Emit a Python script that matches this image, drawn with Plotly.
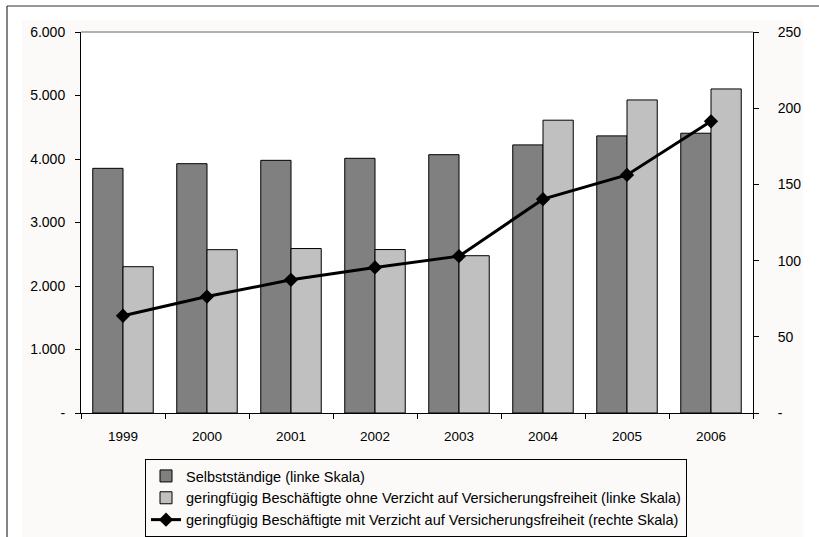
import plotly.graph_objects as go

years = ["1999", "2000", "2001", "2002", "2003", "2004", "2005", "2006"]
selbststaendige = [3853, 3926, 3979, 4011, 4068, 4222, 4364, 4406]
ohne_verzicht = [2304, 2572, 2590, 2574, 2477, 4611, 4930, 5103]
mit_verzicht = [63.8, 76.4, 87.4, 95.5, 102.9, 140.3, 156.2, 191.4]

left_vals = [0, 1000, 2000, 3000, 4000, 5000, 6000]
left_text = ["-", "1.000", "2.000", "3.000", "4.000", "5.000", "6.000"]
right_vals = [0, 50, 100, 150, 200, 250]
right_text = ["-", "50", "100", "150", "200", "250"]

names = [
    "Selbstständige (linke Skala)",
    "geringfügig Beschäftigte ohne Verzicht auf Versicherungsfreiheit (linke Skala)",
    "geringfügig Beschäftigte mit Verzicht auf Versicherungsfreiheit (rechte Skala)",
]

W, H = 819, 537
PL, PR, PT, PB = 81, 753, 32, 413


def px(x):
    return (x - PL) / (PR - PL)


def py(y):
    return (PB - y) / (PB - PT)


FONT = "Liberation Sans, Arial, sans-serif"
OFF = "#FBFAF8"

fig = go.Figure()
fig.add_trace(go.Bar(x=years, y=selbststaendige, name=names[0], legendgroup="a",
                     marker=dict(color="#808080", line=dict(color="#000000", width=1))))
fig.add_trace(go.Bar(x=years, y=ohne_verzicht, name=names[1], legendgroup="b",
                     marker=dict(color="#C0C0C0", line=dict(color="#000000", width=1))))
fig.add_trace(go.Scatter(x=years, y=mit_verzicht, name=names[2], legendgroup="c", yaxis="y2",
                         mode="lines+markers",
                         line=dict(color="#000000", width=3),
                         marker=dict(symbol="diamond", size=11, color="#000000")))

shapes = [
    dict(type="rect", xref="paper", yref="paper", x0=px(0), x1=px(22), y0=py(H), y1=py(0),
         fillcolor="white", line=dict(width=0), layer="below"),
    dict(type="rect", xref="paper", yref="paper", x0=px(0), x1=px(W), y0=py(20), y1=py(0),
         fillcolor="white", line=dict(width=0), layer="below"),
    dict(type="rect", xref="paper", yref="paper", x0=px(803), x1=px(W), y0=py(H), y1=py(0),
         fillcolor="white", line=dict(width=0), layer="below"),
    dict(type="line", xref="paper", yref="paper", x0=px(7), x1=px(W), y0=py(6), y1=py(6),
         line=dict(color="#333333", width=1.2)),
    dict(type="line", xref="paper", yref="paper", x0=px(7), x1=px(7), y0=py(6), y1=py(H),
         line=dict(color="#333333", width=1.2)),
    dict(type="line", xref="paper", yref="paper", x0=0, x1=1, y0=1, y1=1,
         line=dict(color="#999999", width=1.5)),
]

fig.update_layout(
    width=W, height=H,
    margin=dict(l=PL, r=W - PR, t=PT, b=H - PB, pad=0, autoexpand=False),
    paper_bgcolor=OFF,
    plot_bgcolor="white",
    font=dict(family=FONT, size=14, color="#000000"),
    barmode="group", bargap=0.28, bargroupgap=0,
    showlegend=True,
    legend=dict(x=px(145), y=py(459), xanchor="left", yanchor="top",
                bgcolor=OFF, bordercolor="#000000", borderwidth=1,
                font=dict(family=FONT, size=14.5), tracegroupgap=4,
                itemwidth=30, traceorder="normal"),
    xaxis=dict(type="category", showline=True, linecolor="#000000", linewidth=1,
               ticks="outside", ticklen=5, tickcolor="#000000", tickson="boundaries",
               showgrid=False, ticklabelstandoff=11, fixedrange=True,
               tickfont=dict(family=FONT, size=13.5)),
    yaxis=dict(range=[0, 6000], tickvals=left_vals, ticktext=left_text,
               showline=True, linecolor="#000000", linewidth=1,
               ticks="outside", ticklen=5, tickcolor="#000000",
               showgrid=False, zeroline=False, ticklabelstandoff=7,
               tickfont=dict(family=FONT, size=14)),
    yaxis2=dict(range=[0, 250], tickvals=right_vals, ticktext=right_text,
                overlaying="y", side="right",
                showline=True, linecolor="#000000", linewidth=1,
                ticks="outside", ticklen=5, tickcolor="#000000",
                showgrid=False, zeroline=False, ticklabelstandoff=16,
                tickfont=dict(family=FONT, size=14)),
    shapes=shapes,
)

fig.write_html("out.html", config={"displayModeBar": False},
               post_script="document.body.style.margin='0';")
